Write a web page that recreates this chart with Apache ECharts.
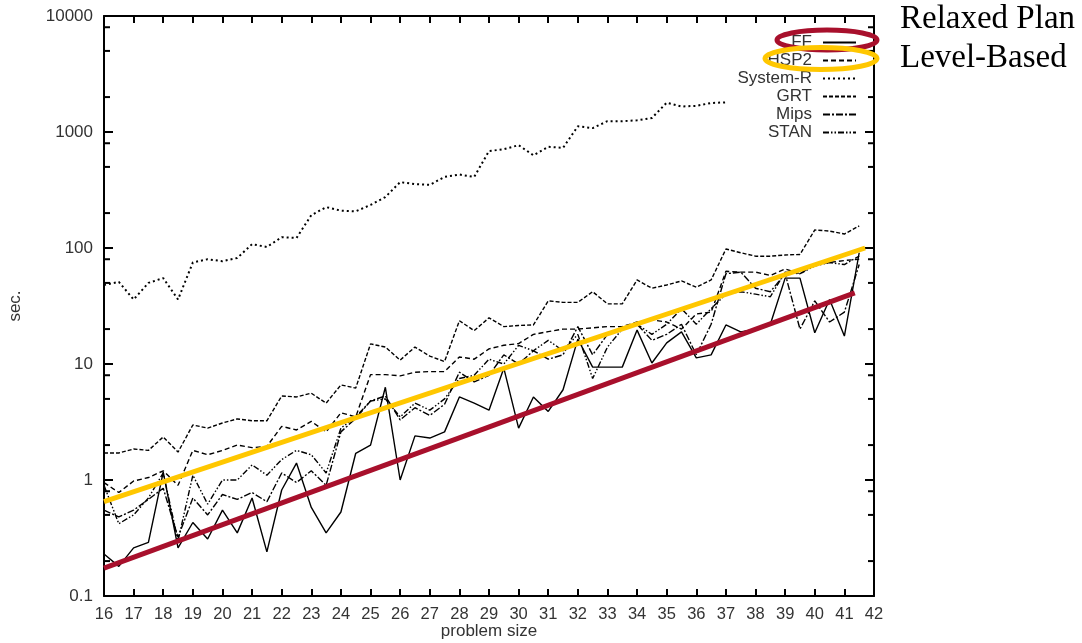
<!DOCTYPE html>
<html>
<head>
<meta charset="utf-8">
<script src="https://cdn.jsdelivr.net/npm/echarts@6/dist/echarts.min.js"></script>
<style>
  html, body { margin: 0; padding: 0; background: #fff; }
  #chart { width: 1082px; height: 643px; }
</style>
</head>
<body>
<div id="chart"></div>
<script>
// problem sizes (x values, half steps)
const sizes = [16, 16.5, 17, 17.5, 18, 18.5, 19, 19.5, 20, 20.5, 21, 21.5, 22, 22.5, 23, 23.5,
  24, 24.5, 25, 25.5, 26, 26.5, 27, 27.5, 28, 28.5, 29, 29.5, 30, 30.5, 31, 31.5, 32, 32.5,
  33, 33.5, 34, 34.5, 35, 35.5, 36, 36.5, 37, 37.5, 38, 38.5, 39, 39.5, 40, 40.5, 41, 41.5];

// runtimes in sec.
const ff = [0.23, 0.18, 0.26, 0.29, 1.17, 0.26, 0.43, 0.31, 0.55, 0.35, 0.7, 0.24, 0.82, 1.4, 0.58, 0.35,
  0.53, 1.7, 2.0, 6.3, 1.0, 2.4, 2.3, 2.6, 5.2, 4.6, 4.0, 9.2, 2.8, 5.2, 3.9, 6.0, 16.4, 9.4,
  9.4, 9.4, 19.6, 10.2, 15.2, 18.9, 11.3, 12, 21.7, 18.9, 20, 22, 55, 55, 18.6, 36, 17.4, 91];
const hsp2 = [0.95, 0.78, 0.98, 1.05, 1.2, 0.9, 1.8, 1.65, 1.8, 2.0, 1.9, 1.95, 2.9, 2.7, 3.2, 2.6,
  3.8, 3.5, 8.1, 8.1, 7.9, 8.5, 8.6, 8.6, 11.5, 11, 13.5, 14.5, 15, 18, 19, 20, 20, 20.5,
  21, 21, 23, 24, 23, 20, 27, 28, 63, 62, 62, 58, 66, 60, 72, 75, 78, 80];
const systemR = [48, 51, 36, 50, 55, 36, 75, 80, 77, 82, 108, 102, 124, 122, 192, 225,
  210, 207, 235, 275, 370, 355, 350, 410, 430, 410, 685, 710, 770, 630, 745, 730, 1120, 1080,
  1240, 1240, 1260, 1320, 1790, 1660, 1680, 1780, 1800];
const grt = [1.71, 1.71, 1.85, 1.8, 2.35, 1.74, 2.98, 2.8, 3.1, 3.36, 3.24, 3.24, 5.3, 5.2, 5.6, 4.6,
  6.6, 6.2, 14.9, 14, 10.8, 14, 11.7, 10.5, 23.6, 19.4, 25, 21, 21.5, 21.7, 35, 34, 34, 42,
  33, 33, 53, 45, 48, 52, 46, 53, 98, 91, 85, 85, 87, 88, 143, 140, 132, 155];
const mips = [0.55, 0.48, 0.55, 0.68, 0.85, 0.32, 0.7, 0.5, 0.75, 0.68, 0.78, 0.65, 1.15, 0.95, 1.2, 0.9,
  2.6, 3.4, 4.8, 5.3, 3.3, 4.2, 3.6, 4.5, 8.5, 7, 8, 12, 10, 13, 11, 12, 21, 12,
  18, 20, 22, 16, 18, 22, 12, 22, 60, 62, 45, 42, 60, 20, 35, 23, 28, 72];
const stan = [0.9, 0.42, 0.5, 0.7, 1.15, 0.3, 1.1, 0.62, 1.0, 1.0, 1.35, 1.1, 1.5, 1.8, 1.65, 1.15,
  2.8, 3.5, 4.8, 5.0, 3.5, 4.6, 4.0, 5.0, 7.5, 8, 11, 10, 14.5, 13, 16, 13, 18, 7.5,
  14, 20, 22, 18, 22, 30, 22, 30, 40, 42, 40, 38, 62, 60, 70, 75, 72, 85];

// hand-drawn trend lines (start / end points)
const relaxedPlan = [[16, 0.174], [41.35, 41]];
const levelBased = [[16, 0.65], [41.7, 100]];

const yMinorTicks = [0.2, 0.5, 0.8, 2, 5, 8, 20, 50, 80, 200, 500, 800, 2000, 5000, 8000];

const names = ["FF", "HSP2", "System-R", "GRT", "Mips", "STAN"];
const values = [ff, hsp2, systemR, grt, mips, stan];
const dashes = ["solid", [5, 3], [2, 3], [4, 2], [7, 2, 2, 2], [6, 2, 1.5, 2, 1.5, 2]];
const widths = [1.4, 1.4, 2, 1.4, 1.4, 1.4];

const RED = "#a8102c";
const YELLOW = "#ffc700";
const TXT = "#333";

const chart = echarts.init(document.getElementById("chart"));

const dataSeries = names.map((name, k) => ({
  name: name,
  type: "line",
  data: values[k].map((v, i) => [sizes[i], v]),
  symbol: "none",
  color: "#000",
  lineStyle: { color: "#000", width: widths[k], type: dashes[k] },
  z: 3
}));

chart.setOption({
  animation: false,
  backgroundColor: "#fff",
  grid: { left: 104, right: 208, top: 16, bottom: 47, outerBoundsMode: "none" },
  legend: {
    data: names,
    orient: "vertical",
    align: "right",
    right: 225,
    top: 34,
    padding: 0,
    itemGap: 1,
    itemWidth: 33,
    itemHeight: 10,
    selectedMode: false,
    itemStyle: { opacity: 0 },
    textStyle: { fontFamily: "Liberation Sans", fontSize: 17, color: TXT, lineHeight: 16, padding: [0, 6, 0, 0] }
  },
  xAxis: [
    {
      type: "value", min: 16, max: 42, interval: 1,
      name: "problem size", nameLocation: "middle", nameGap: 27, nameMoveOverlap: false,
      nameTextStyle: { fontFamily: "Liberation Sans", fontSize: 17, color: TXT },
      axisLine: { lineStyle: { color: "#000", width: 2 } },
      axisTick: { inside: true, length: 7, lineStyle: { color: "#000", width: 2 } },
      axisLabel: { margin: 10, fontFamily: "Liberation Sans", fontSize: 16.5, color: TXT },
      splitLine: { show: false }
    },
    {
      type: "value", min: 16, max: 42, interval: 1, position: "top",
      axisLine: { lineStyle: { color: "#000", width: 2 } },
      axisTick: { inside: true, length: 7, lineStyle: { color: "#000", width: 2 } },
      axisLabel: { show: false },
      splitLine: { show: false }
    }
  ],
  yAxis: [
    {
      type: "log", logBase: 10, min: 0.1, max: 10000, splitNumber: 5,
      name: "sec.", nameLocation: "middle", nameGap: 80,
      nameTextStyle: { fontFamily: "Liberation Sans", fontSize: 17, color: TXT },
      axisLine: { show: true, lineStyle: { color: "#000", width: 2 } },
      axisTick: { inside: true, length: 9, lineStyle: { color: "#000", width: 2 } },
      axisLabel: { margin: 11, fontFamily: "Liberation Sans", fontSize: 17, color: TXT,
        formatter: (v) => String(v) },
      splitLine: { show: false }
    },
    {
      type: "log", logBase: 10, min: 0.1, max: 10000, splitNumber: 5, position: "right",
      axisLine: { show: true, lineStyle: { color: "#000", width: 2 } },
      axisTick: { inside: true, length: 9, lineStyle: { color: "#000", width: 2 } },
      axisLabel: { show: false },
      splitLine: { show: false }
    }
  ],
  series: [
    ...dataSeries,
    {
      name: "minor ticks",
      type: "custom",
      silent: true,
      data: yMinorTicks.map((v) => [16, v]),
      renderItem: (params, api) => {
        const cs = params.coordSys;
        const y = api.coord([16, api.value(1)])[1];
        const st = { stroke: "#000", lineWidth: 2 };
        return {
          type: "group",
          children: [
            { type: "line", shape: { x1: cs.x, y1: y, x2: cs.x + 6, y2: y }, style: st },
            { type: "line", shape: { x1: cs.x + cs.width - 6, y1: y, x2: cs.x + cs.width, y2: y }, style: st }
          ]
        };
      },
      z: 2
    },
    {
      name: "Level-Based line",
      type: "line",
      data: levelBased,
      symbol: "none",
      lineStyle: { color: YELLOW, width: 5 },
      z: 5
    },
    {
      name: "Relaxed Plan line",
      type: "line",
      data: relaxedPlan,
      symbol: "none",
      lineStyle: { color: RED, width: 5 },
      z: 5
    }
  ],
  graphic: {
    elements: [
      {
        type: "ellipse", z: 100,
        shape: { cx: 827, cy: 40, rx: 50, ry: 10 },
        style: { fill: "none", stroke: RED, lineWidth: 5 }
      },
      {
        type: "ellipse", z: 101,
        shape: { cx: 821, cy: 58.5, rx: 56, ry: 11 },
        style: { fill: "none", stroke: YELLOW, lineWidth: 5 }
      },
      {
        type: "text", left: 900, top: 3, z: 100,
        style: { text: "Relaxed Plan", font: '33px "Liberation Serif"', fill: "#000" }
      },
      {
        type: "text", left: 900, top: 42, z: 100,
        style: { text: "Level-Based", font: '33px "Liberation Serif"', fill: "#000" }
      }
    ]
  }
});
</script>
</body>
</html>
